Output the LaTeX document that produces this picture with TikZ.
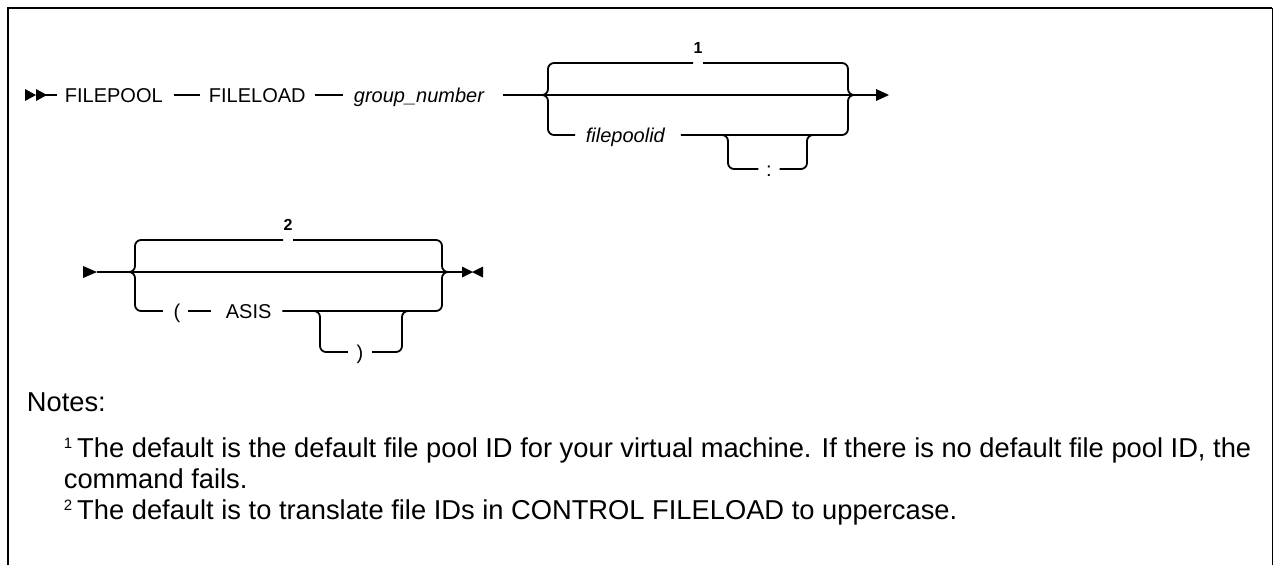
\documentclass[tikz,border=0pt]{standalone}
\usepackage{fontspec}
\setmainfont{Liberation Sans}
\begin{document}
\begin{tikzpicture}[x=1pt,y=-1pt, line width=1.8pt,
  kw/.style={font=\fontsize{20}{24}\selectfont, inner sep=0pt, text height=14.3pt, text depth=0pt},
  var/.style={kw, font=\fontsize{20}{24}\selectfont\itshape},
  num/.style={font=\fontsize{16}{18}\selectfont\bfseries, inner sep=0pt},
  note/.style={font=\fontsize{27.3}{32}\selectfont, inner sep=0pt, anchor=base west},
  rail/.style={line width=1.8pt, rounded corners=6pt},
  tip/.style={fill=black, draw=none},
  frame/.style={line width=2.5pt, line join=miter}]
\useasboundingbox (0,0) rectangle (1274,565);
% frame
\draw[frame] (8,565) -- (8,8) -- (1272,8);
\draw[line width=1.5pt] (1272.5,8) -- (1272.5,565);

% ---------- row 1 ----------
\coordinate (s1) at (25,95);
\coordinate (s1b) at (57,95);
\fill[tip] (25,89) -- (36,95) -- (25,101) -- cycle;
\fill[tip] (36,89) -- (47,95) -- (36,101) -- cycle;
\draw (36,95) -- (s1b);
\node[kw, anchor=west] (fp) at (64,95) {FILEPOOL};
\node[kw, anchor=west] (fl) at (208,95) {FILELOAD};
\node[var, anchor=west] (gn) at (353,95) {group\_number};
\draw[shorten <=10pt, shorten >=8pt] (fp.east) -- (fl.west);
\draw[shorten <=8pt, shorten >=10pt] (fl.east) -- (gn.west);

\coordinate (b1L) at (542,95);
\coordinate (b1R) at (853,95);
\coordinate (e1) at (876,95);
\draw[shorten <=18pt] (gn.east) -- (b1L) -- (b1R) -- (e1);
\fill[tip] (876,89) -- (889,95) -- (876,101) -- cycle;

\node[num] (n1) at (698,48) {1};
\draw[rail] (b1L) -| (548,63) -- (693,63);
\draw[rail] (703,63) -- (848,63) |- (b1R);

\node[var, anchor=west] (fpid) at (585,135) {filepoolid};
\draw[rail] (b1L) -| (548,135) -- ([xshift=-10pt]fpid.west);
\draw[rail] ([xshift=15pt]fpid.east) -- (848,135) |- (b1R);

\node[kw] (col) at (769,169) {:};
\draw[rail] (720,135) -| (728,169) -- ([xshift=-7pt]col.west);
\draw[rail] ([xshift=7pt]col.east) -- (807,169) |- (815,135);

% ---------- row 2 ----------
\coordinate (r2s) at (97,272);
\coordinate (b2L) at (127,272);
\coordinate (b2R) at (450,272);
\coordinate (e2) at (462,272);
\fill[tip] (83,266) -- (97,272) -- (83,278) -- cycle;
\draw (r2s) -- (b2L) -- (b2R) -- (e2);
\fill[tip] (462,266.5) -- (473,272) -- (462,277.5) -- cycle;
\fill[tip] (483,266.5) -- (472,272) -- (483,277.5) -- cycle;

\node[num] (n2) at (288,225) {2};
\draw[rail] (b2L) -| (135,240) -- (283,240);
\draw[rail] (293,240) -- (442,240) |- (b2R);

\node[kw] (lp) at (177,311) {(};
\node[kw, anchor=west] (asis) at (225,311) {ASIS};
\draw[rail] (b2L) -| (135,311) -- ([xshift=-10pt]lp.west);
\draw[shorten <=7pt, shorten >=14pt] (lp.east) -- (asis.west);
\draw[rail] ([xshift=10pt]asis.east) -- (442,311) |- (b2R);

\node[kw] (rp) at (360,352) {)};
\draw[rail] (312,311) -| (320,352) -- ([xshift=-8pt]rp.west);
\draw[rail] ([xshift=8pt]rp.east) -- (402,352) |- (410,311);

% ---------- notes ----------
\node[note] (notes) at (26,411) {Notes:};
\node[note] (note1) at (63,457) {\raisebox{9pt}{\fontsize{15}{15}\selectfont 1}\hspace{5pt}The default is the default file pool ID for your virtual machine. If there is no default file pool ID, the};
\node[note] (note1b) at (63,488) {command fails.};
\node[note] (note2) at (63,519) {\raisebox{9pt}{\fontsize{15}{15}\selectfont 2}\hspace{5pt}The default is to translate file IDs in CONTROL FILELOAD to uppercase.};
\end{tikzpicture}
\end{document}
